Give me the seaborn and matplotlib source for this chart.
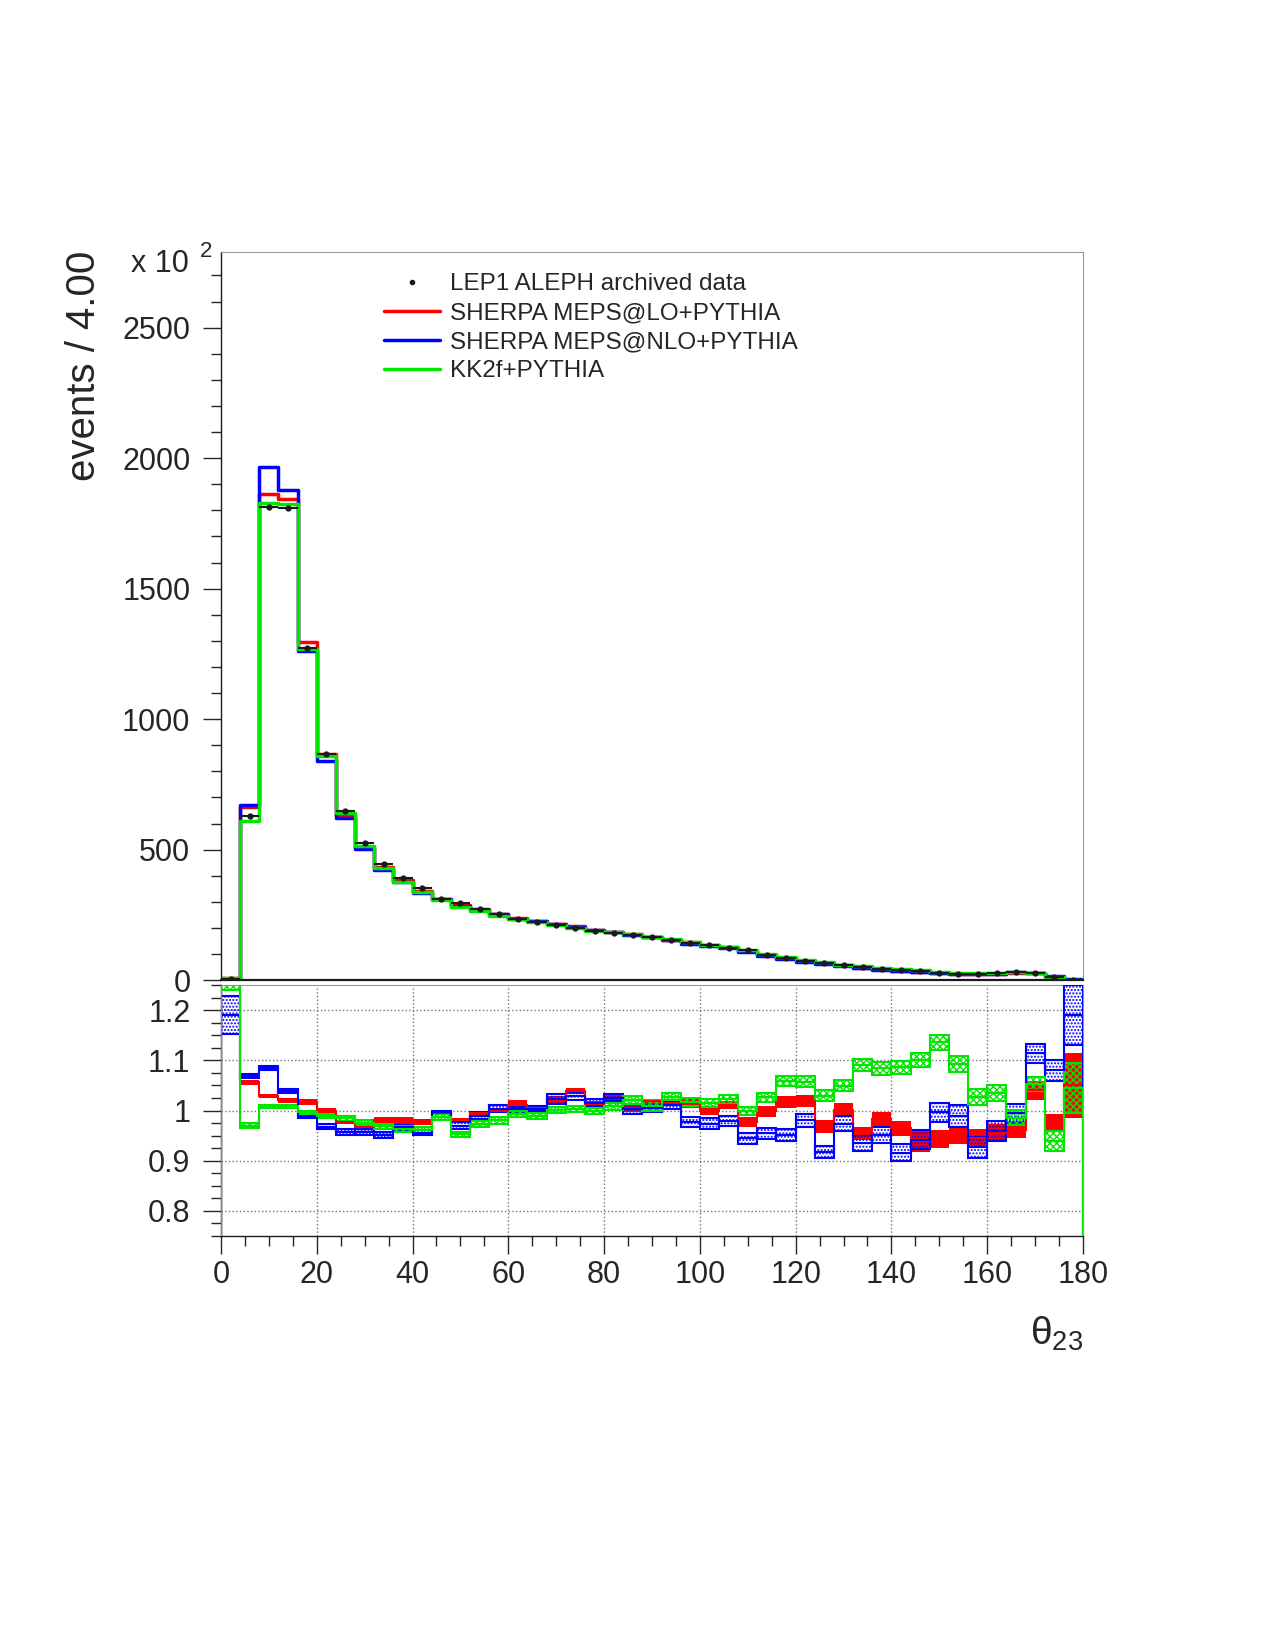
import numpy as np
import pandas as pd
import matplotlib
matplotlib.use('Agg')
import matplotlib.pyplot as plt
import seaborn as sns
from matplotlib.lines import Line2D
from matplotlib.ticker import MultipleLocator, FormatStrFormatter

# binning: 45 bins of 4 degrees
edges = np.arange(0, 184, 4)
centers = edges[:-1] + 2

# data events per bin
data_events = [5, 627, 1813, 1809, 1273, 868, 649, 526, 443, 390,
               351, 312, 294, 272, 252, 234, 224, 210, 198, 189,
               181, 174, 164, 152, 143, 134, 124, 114, 98, 84,
               72, 67, 56, 49, 42, 38, 34, 29, 25, 25,
               26, 30, 26, 13, 2]

# MC / data ratios (band centre and half width)
lo_ratio = [1.32, 1.056, 1.028, 1.020, 1.017, 1.000, 0.977, 0.968, 0.982, 0.980,
            0.977, 0.995, 0.981, 0.995, 1.000, 1.012, 1.006, 1.021, 1.038, 1.014,
            1.025, 1.005, 1.018, 1.015, 1.014, 0.999, 1.011, 0.978, 0.999, 1.017,
            1.019, 0.969, 1.002, 0.954, 0.983, 0.965, 0.940, 0.943, 0.951, 0.946,
            0.956, 0.961, 1.040, 0.976, 1.050]
lo_err = [0.04, 0.005, 0.004, 0.004, 0.005, 0.005, 0.004, 0.005, 0.006, 0.007,
          0.006, 0.003, 0.004, 0.004, 0.005, 0.008, 0.005, 0.007, 0.006, 0.005,
          0.007, 0.007, 0.004, 0.005, 0.008, 0.008, 0.008, 0.010, 0.011, 0.012,
          0.012, 0.013, 0.013, 0.013, 0.014, 0.015, 0.022, 0.018, 0.017, 0.018,
          0.018, 0.016, 0.019, 0.018, 0.064]

nlo_ratio = [1.19, 1.069, 1.085, 1.039, 0.990, 0.968, 0.957, 0.958, 0.951, 0.967,
             0.956, 0.997, 0.970, 0.990, 1.004, 1.003, 1.004, 1.023, 1.028, 1.016,
             1.025, 1.003, 1.005, 1.011, 0.978, 0.974, 0.980, 0.945, 0.955, 0.951,
             0.981, 0.917, 0.974, 0.936, 0.951, 0.916, 0.942, 0.997, 0.990, 0.927,
             0.960, 0.995, 1.114, 1.080, 1.19]
nlo_err = [0.038, 0.004, 0.004, 0.004, 0.004, 0.005, 0.006, 0.006, 0.006, 0.005,
           0.005, 0.002, 0.007, 0.007, 0.007, 0.005, 0.005, 0.010, 0.008, 0.006,
           0.007, 0.010, 0.007, 0.007, 0.010, 0.011, 0.010, 0.011, 0.011, 0.012,
           0.013, 0.012, 0.015, 0.016, 0.016, 0.017, 0.019, 0.019, 0.022, 0.021,
           0.020, 0.018, 0.019, 0.021, 0.060]

kk_ratio = [1.27, 0.970, 1.009, 1.009, 0.997, 0.990, 0.985, 0.976, 0.969, 0.963,
            0.962, 0.987, 0.953, 0.974, 0.981, 0.994, 0.989, 1.002, 1.004, 1.000,
            1.009, 1.021, 1.010, 1.027, 1.017, 1.015, 1.022, 1.000, 1.026, 1.058,
            1.057, 1.029, 1.049, 1.091, 1.084, 1.086, 1.100, 1.136, 1.093, 1.027,
            1.034, 0.986, 1.052, 0.940, 1.045]
kk_err = [0.03, 0.005, 0.003, 0.003, 0.003, 0.004, 0.005, 0.005, 0.005, 0.006,
          0.006, 0.006, 0.005, 0.006, 0.007, 0.006, 0.006, 0.006, 0.006, 0.006,
          0.007, 0.007, 0.010, 0.007, 0.007, 0.007, 0.008, 0.008, 0.009, 0.010,
          0.011, 0.011, 0.011, 0.012, 0.013, 0.013, 0.014, 0.015, 0.016, 0.016,
          0.016, 0.015, 0.014, 0.020, 0.050]

labels = ['LEP1 ALEPH archived data', 'SHERPA MEPS@LO+PYTHIA',
          'SHERPA MEPS@NLO+PYTHIA', 'KK2f+PYTHIA']

RED, BLUE, GREEN = '#ff0000', '#0000ff', '#00e600'

sns.set_theme(style='ticks')
plt.rcParams['font.family'] = ['Liberation Sans', 'DejaVu Sans']
plt.rcParams['hatch.linewidth'] = 1.0

fig = plt.figure(figsize=(12.75, 16.5), dpi=100)
ax_top = fig.add_axes([0.1733, 0.406, 0.6761, 0.4413])
ax_rat = fig.add_axes([0.1733, 0.2509, 0.6761, 0.1521])

data = np.array(data_events, dtype=float)
models = [
    (np.array(lo_ratio), np.array(lo_err), RED),
    (np.array(nlo_ratio), np.array(nlo_err), BLUE),
    (np.array(kk_ratio), np.array(kk_err), GREEN),
]

# top panel: MC histograms (ratio times data) as steps
for ratio, err, col in models:
    df = pd.DataFrame({'theta': centers.astype(float), 'events': data * ratio})
    sns.histplot(data=df, x='theta', weights='events', binwidth=4, binrange=(0, 180),
                 element='step', fill=False, color=col, linewidth=2.5, ax=ax_top)
ax_top.errorbar(centers, data, xerr=2, fmt='o', ms=3.5, color='k', lw=1.5,
                capsize=0, zorder=5)

ax_top.set_xlim(0, 180)
ax_top.set_ylim(0, 2790)
ax_top.set_xlabel('')
ax_top.set_ylabel('')
ax_top.yaxis.set_major_locator(MultipleLocator(500))
ax_top.yaxis.set_minor_locator(MultipleLocator(100))
ax_top.tick_params(axis='x', bottom=False, labelbottom=False)
ax_top.tick_params(axis='y', which='major', length=13, width=1, labelsize=22, pad=9)
ax_top.tick_params(axis='y', which='minor', length=7, width=1)
for s in ['top', 'right']:
    ax_top.spines[s].set_color('#999999')
    ax_top.spines[s].set_linewidth(0.8)
ax_top.spines['left'].set_color('k')
ax_top.spines['left'].set_linewidth(1)
ax_top.spines['bottom'].set_color('k')
ax_top.spines['bottom'].set_linewidth(1.6)

handles = [Line2D([], [], marker='.', ls='none', color='k', ms=6),
           Line2D([], [], color=RED, lw=2.5),
           Line2D([], [], color=BLUE, lw=2.5),
           Line2D([], [], color=GREEN, lw=2.5)]
ax_top.legend(handles, labels, loc='upper left', bbox_to_anchor=(0.189, 0.971),
              frameon=False, fontsize=17.5, handlelength=2.3, handletextpad=0.42,
              labelspacing=0.29, borderpad=0, borderaxespad=0)

# ratio panel: bands and centre lines
for ratio, err, col in models:
    if col == RED:
        ax_rat.bar(centers, 2 * err, bottom=ratio - err, width=4, color=col,
                   edgecolor='none', linewidth=0, zorder=2)
    elif col == BLUE:
        ax_rat.bar(centers, 2 * err, bottom=ratio - err, width=4, facecolor='none',
                   edgecolor=col, hatch='.....', linewidth=1.5, zorder=3)
    else:
        ax_rat.bar(centers, 2 * err, bottom=ratio - err, width=4, facecolor='none',
                   edgecolor=col, hatch='xxxxx', linewidth=1.5, zorder=4)
for ratio, err, col in models:
    ax_rat.stairs(ratio, edges, baseline=0, color=col, lw=1.5, zorder=4)

ax_rat.set_xlim(0, 180)
ax_rat.set_ylim(0.75, 1.25)
ax_rat.xaxis.set_major_locator(MultipleLocator(20))
ax_rat.xaxis.set_minor_locator(MultipleLocator(5))
ax_rat.yaxis.set_minor_locator(MultipleLocator(0.025))
ax_rat.set_yticks([0.8, 0.9, 1.0, 1.1, 1.2])
ax_rat.yaxis.set_major_formatter(FormatStrFormatter('%g'))
ax_rat.tick_params(axis='x', which='major', length=13, width=1, labelsize=22, pad=4)
ax_rat.tick_params(axis='y', which='major', length=13, width=1, labelsize=22, pad=9)
ax_rat.tick_params(which='minor', length=7, width=1)
ax_rat.grid(True, which='major', ls=':', color='#777777', lw=1)
for s in ['top', 'right']:
    ax_rat.spines[s].set_color('#999999')
    ax_rat.spines[s].set_linewidth(0.8)
for s in ['left', 'bottom']:
    ax_rat.spines[s].set_color('k')
    ax_rat.spines[s].set_linewidth(1)

# axis titles in ROOT style
fig.text(84 / 1275, 1 - 366 / 1650, 'events / 4.00', rotation=90, fontsize=29,
         ha='center', va='center')
fig.text(131 / 1275, 1 - 272 / 1650, 'x 10', fontsize=22, ha='left', va='baseline')
fig.text(200 / 1275, 1 - 257 / 1650, '2', fontsize=16, ha='left', va='baseline')
fig.text(1083 / 1275, 1 - 1345 / 1650, r'$\mathregular{\theta_{23}}$', fontsize=28,
         ha='right', va='baseline')

fig.savefig('out.png', dpi=100)
